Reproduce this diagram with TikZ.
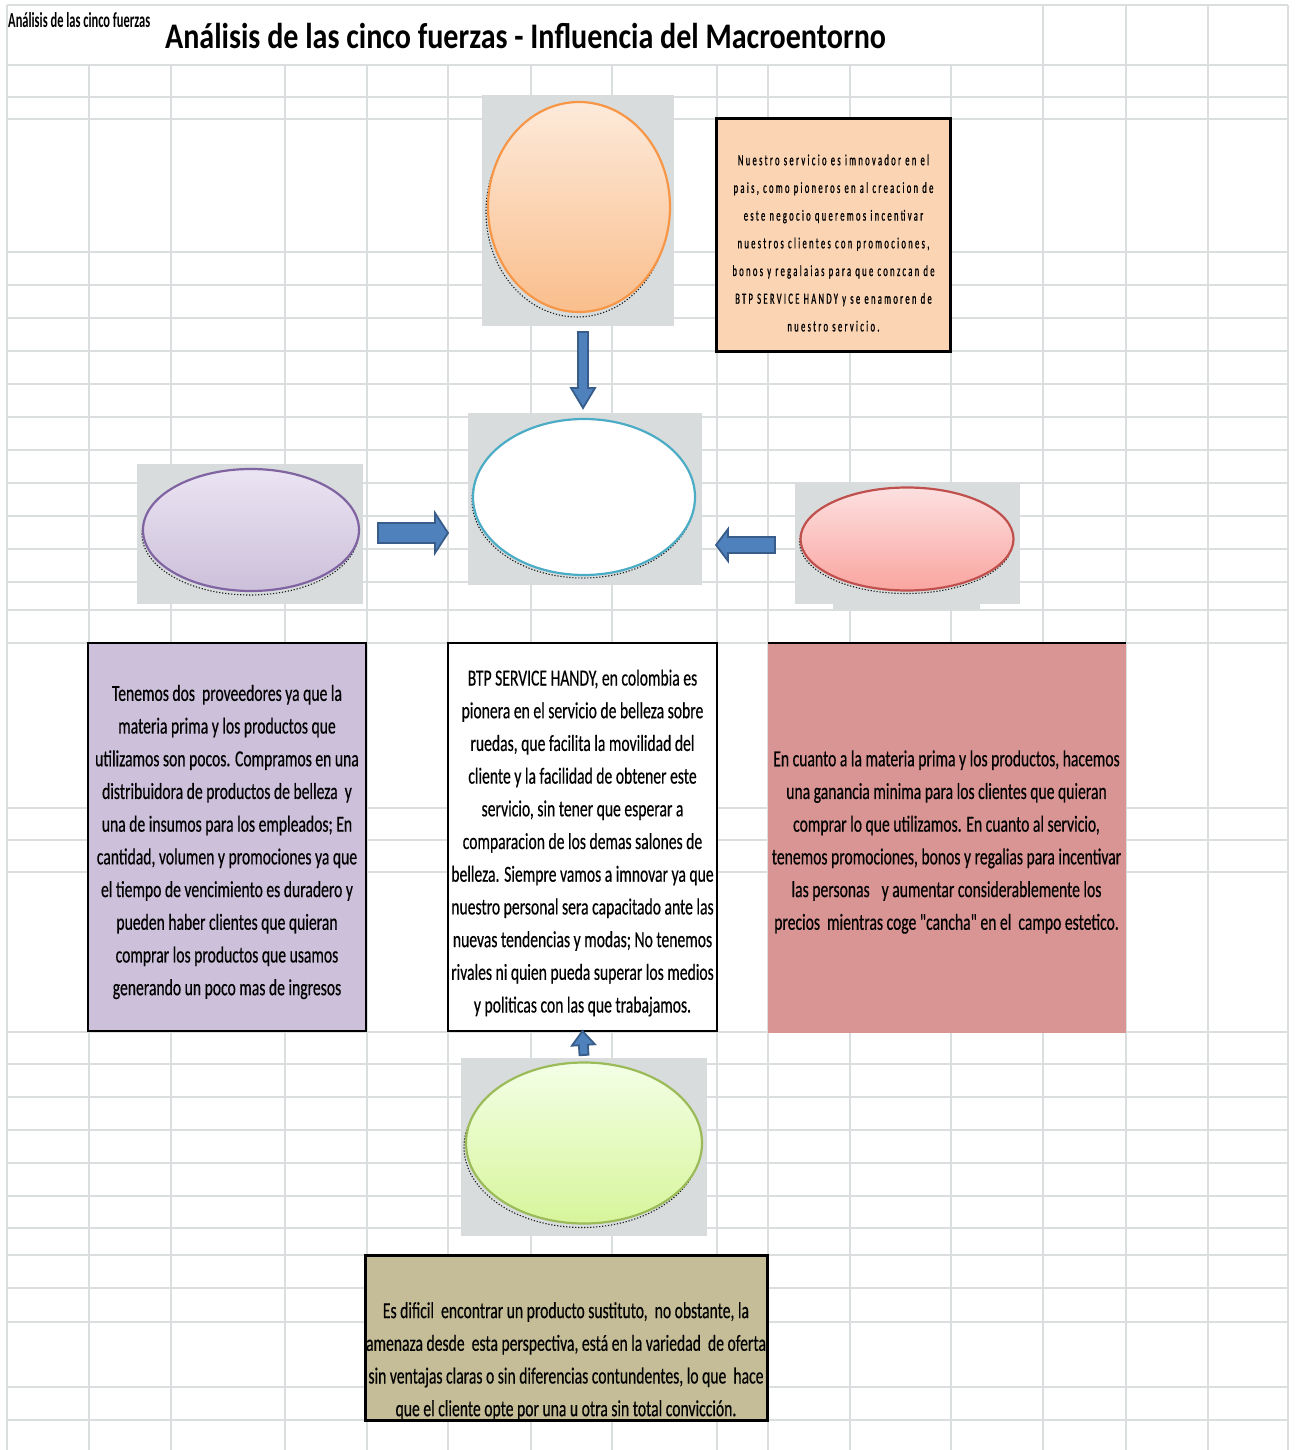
\documentclass[tikz,border=0pt]{standalone}
\usepackage{fontspec}
\usepackage{graphicx}
\setmainfont{Carlito}
\newfontfamily\bodyfont{Carlito}[FakeStretch=0.68,FakeBold=0.4]
\newfontfamily\smallfont{Carlito}[FakeStretch=0.55,LetterSpace=15,FakeBold=0.9]
\newfontfamily\titlefont{Carlito}[FakeStretch=0.835]
\usetikzlibrary{shapes.geometric,calc}
\definecolor{gridc}{RGB}{218,222,222}
\definecolor{grayfill}{RGB}{216,220,220}
\definecolor{arrfill}{RGB}{79,129,189}
\definecolor{arrline}{RGB}{56,93,138}
\definecolor{orStroke}{RGB}{247,150,70}
\definecolor{orTop}{RGB}{253,234,218}
\definecolor{orBot}{RGB}{250,190,140}
\definecolor{cyStroke}{RGB}{75,172,198}
\definecolor{puStroke}{RGB}{128,100,162}
\definecolor{puTop}{RGB}{235,228,243}
\definecolor{puBot}{RGB}{204,192,218}
\definecolor{reStroke}{RGB}{192,80,77}
\definecolor{reTop}{RGB}{252,224,224}
\definecolor{reBot}{RGB}{250,165,160}
\definecolor{grStroke}{RGB}{155,187,89}
\definecolor{grTop}{RGB}{243,255,230}
\definecolor{grBot}{RGB}{215,245,155}
\definecolor{oboxc}{RGB}{251,212,180}
\definecolor{pboxc}{RGB}{204,192,218}
\definecolor{rboxc}{RGB}{217,149,148}
\definecolor{tboxc}{RGB}{196,189,151}
\newcommand\blkarrow[5]{%
  \filldraw[blk] let \p1=(#1), \p2=(#2),
    \n1={veclen(\x2-\x1,\y2-\y1)}, \n2={atan2(\y2-\y1,\x2-\x1)} in
    ([shift={(\p1)},rotate=\n2]0pt,-#3)
    -- ([shift={(\p1)},rotate=\n2]{\n1-#5},-#3)
    -- ([shift={(\p1)},rotate=\n2]{\n1-#5},-#4)
    -- ([shift={(\p1)},rotate=\n2]\n1,0pt)
    -- ([shift={(\p1)},rotate=\n2]{\n1-#5},#4)
    -- ([shift={(\p1)},rotate=\n2]{\n1-#5},#3)
    -- ([shift={(\p1)},rotate=\n2]0pt,#3) -- cycle;}
\begin{document}
\begin{tikzpicture}[x=1pt,y=-1pt,
  gridline/.style={draw=gridc, line width=1.8pt},
  graybox/.style={rectangle, fill=grayfill, inner sep=0pt, outer sep=0pt},
  oval/.style={ellipse, inner sep=0pt, outer sep=0pt, line width=2.2pt},
  shadowoval/.style={ellipse, inner sep=0pt, outer sep=0pt, draw=black!90, dash pattern=on 1.2pt off 1.8pt, line width=1.1pt},
  textbox/.style={rectangle, draw=black, line width=2.4pt, inner sep=0pt, outer sep=0pt},
  bodytext/.style={align=center, font=\bodyfont\fontsize{23}{32.7}\selectfont, inner sep=0pt},
  blk/.style={fill=arrfill, draw=arrline, line width=1.8pt, line join=miter}]
\useasboundingbox (0,0) rectangle (1295,1450);
\fill[white] (0,0) rectangle (1295,1450);
% grid
\draw[gridline] (7,5) -- (1288,5);
\foreach \yy in {65,97,119,252,285,318,351,384,417,450,483,516,549,582,610,643,808,840,872,1032,1064,1097,1130,1163,1196,1228,1255,1288,1322,1387,1420}
  \draw[gridline] (7,\yy) -- (1288,\yy);
\foreach \xx in {7,89,171,285,367,448,531,612,717,768,850,951,1043,1126,1208,1288}
  \draw[gridline] (\xx,65) -- (\xx,1450);
\foreach \xx in {7,1043,1126,1208,1288}
  \draw[gridline] (\xx,5) -- (\xx,65);
% title
\node[font=\titlefont\bfseries\fontsize{36}{40}\selectfont, anchor=base, inner sep=0pt] (title) at (525.5,49) {Análisis de las cinco fuerzas - Influencia del Macroentorno};
\node[anchor=north west, inner sep=0pt] (blob) at (8,12) {\resizebox{142pt}{15pt}{\bfseries Análisis de las cinco fuerzas}};
% gray boxes
\node[graybox, minimum width=192pt, minimum height=231pt] (ogray) at (578,210.5) {};
\node[graybox, minimum width=234pt, minimum height=172pt] (cgray) at (585,499) {};
\node[graybox, minimum width=226pt, minimum height=140pt] (lgray) at (250,534) {};
\node[graybox, minimum width=225pt, minimum height=121pt] (rgray) at (907.5,543.5) {};
\node[graybox, minimum width=147pt, minimum height=6pt] (rgrayx) at (906.5,606) {};
\node[graybox, minimum width=246pt, minimum height=178pt] (ggray) at (584,1147) {};
% shadows
\node[shadowoval, minimum width=182pt, minimum height=210pt] (oshadow) at (577,212) {};
\node[shadowoval, minimum width=222pt, minimum height=156pt] (cshadow) at (583,500) {};
\node[shadowoval, minimum width=216pt, minimum height=122pt] (lshadow) at (250,534) {};
\node[shadowoval, minimum width=213pt, minimum height=103pt] (rshadow) at (906,542) {};
\node[shadowoval, minimum width=236pt, minimum height=161pt] (gshadow) at (582,1147) {};
% ovals
\node[oval, draw=orStroke, top color=orTop, bottom color=orBot, minimum width=182pt, minimum height=210pt] (oell) at (579,207) {};
\node[oval, draw=cyStroke, fill=white, minimum width=222pt, minimum height=156pt] (cell) at (584,497) {};
\node[oval, draw=puStroke, top color=puTop, bottom color=puBot, minimum width=216pt, minimum height=122pt] (lell) at (251,530) {};
\node[oval, draw=reStroke, top color=reTop, bottom color=reBot, minimum width=213pt, minimum height=103pt] (rell) at (907,539) {};
\node[oval, draw=grStroke, top color=grTop, bottom color=grBot, minimum width=236pt, minimum height=161pt] (gell) at (584,1143) {};
% text boxes
\node[textbox, fill=oboxc, minimum width=234pt, minimum height=233pt] (obox) at (833.5,235) {};
\node[textbox, fill=pboxc, minimum width=278pt, minimum height=388pt] (pbox) at (227,837) {};
\node[textbox, fill=white, minimum width=269pt, minimum height=388pt] (mbox) at (582.5,837) {};
\node[rectangle, fill=rboxc, inner sep=0pt, outer sep=0pt, minimum width=358pt, minimum height=390pt] (rbox) at (946.5,838) {};
\draw[black, line width=2.4pt] (rbox.north west) -- (rbox.north east);
\node[textbox, fill=tboxc, line width=3pt, minimum width=402pt, minimum height=165pt] (tbox) at (566,1338) {};
% texts
\node[align=center, inner sep=0pt, font=\smallfont\fontsize{15.5}{27.7}\selectfont] (otext) at (833.5,243) {Nuestro servicio es imnovador en el\\pais, como pioneros en al creacion de\\este negocio queremos incentivar\\nuestros clientes con promociones,\\bonos y regalaias para que conzcan de\\BTP SERVICE HANDY y se enamoren de\\nuestro servicio.};
\node[bodytext] (ptext) at (227,842) {Tenemos dos\ \ proveedores ya que la\\materia prima y los productos que\\utilizamos son pocos. Compramos en una\\distribuidora de productos de belleza\ \ y\\una de insumos para los empleados; En\\cantidad, volumen y promociones ya que\\el tiempo de vencimiento es duradero y\\pueden haber clientes que quieran\\comprar los productos que usamos\\generando un poco mas de ingresos};
\node[bodytext] (mtext) at (582.5,843) {BTP SERVICE HANDY, en colombia es\\pionera en el servicio de belleza sobre\\ruedas, que facilita la movilidad del\\cliente y la facilidad de obtener este\\servicio, sin tener que esperar a\\comparacion de los demas salones de\\belleza. Siempre vamos a imnovar ya que\\nuestro personal sera capacitado ante las\\nuevas tendencias y modas; No tenemos\\rivales ni quien pueda superar los medios\\y politicas con las que trabajamos.};
\node[bodytext] (rtext) at (946.5,842) {En cuanto a la materia prima y los productos, hacemos\\una ganancia minima para los clientes que quieran\\comprar lo que utilizamos. En cuanto al servicio,\\tenemos promociones, bonos y regalias para incentivar\\las personas\hspace{12pt}y aumentar considerablemente los\\precios\ \ mientras coge "cancha" en el\ \ campo estetico.};
\node[bodytext] (ttext) at (566,1361) {Es dificil\ \ encontrar un producto sustituto,\ \ no obstante, la\\amenaza desde\ \ esta perspectiva, está en la variedad\ \ de oferta\\sin ventajas claras o sin diferencias contundentes, lo que\ \ hace\\que el cliente opte por una u otra sin total convicción.};
% arrows
\coordinate (a1s) at ([xshift=5pt,yshift=-6pt]ogray.south);
\coordinate (a1e) at ([xshift=-2pt,yshift=5pt]cgray.north);
\blkarrow{a1s}{a1e}{5pt}{12pt}{20pt}
\coordinate (a2s) at ([xshift=15pt,yshift=1pt]lgray.east);
\coordinate (a2e) at ([xshift=-20pt,yshift=-34pt]cgray.west);
\blkarrow{a2s}{a2e}{10pt}{20pt}{13pt}
\coordinate (a3s) at ([xshift=-20pt,yshift=-1.5pt]rgray.west);
\coordinate (a3e) at ([xshift=14pt,yshift=-46pt]cgray.east);
\blkarrow{a3s}{a3e}{8pt}{16pt}{12pt}
\coordinate (a4s) at ([yshift=3pt]ggray.north);
\blkarrow{a4s}{mbox.south}{4.5pt}{11.5pt}{14pt}
\end{tikzpicture}
\end{document}
